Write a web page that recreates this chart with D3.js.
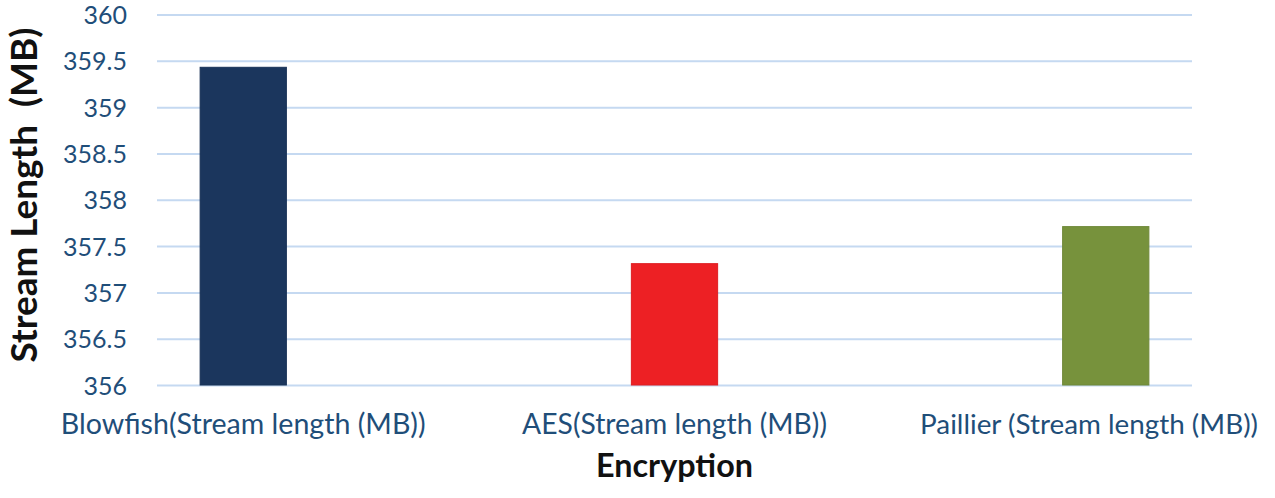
<!DOCTYPE html>
<html>
<head>
<meta charset="utf-8">
<script src="https://cdn.jsdelivr.net/npm/d3@7/dist/d3.min.js"></script>
<style>
  html, body { margin: 0; padding: 0; background: #fff; }
  svg { display: block; }
</style>
</head>
<body>
<svg id="chart" width="1275" height="498"></svg>
<script>
// ---- data ----
const categories = ["Blowfish(Stream length (MB))", "AES(Stream length (MB))", "Paillier (Stream length (MB))"];
const series = ["Blowfish", "AES", "Paillier"];
const values = [359.43, 357.31, 357.71];
const yTicks = [356, 356.5, 357, 357.5, 358, 358.5, 359, 359.5, 360];
const yDomain = [356, 360];
const xTitle = "Encryption";
const yTitle = "Stream Length\u00A0\u00A0(MB)";

// ---- styles ----
const colors = ["#1B365D", "#ED2024", "#77923C"];
const W = 1275, H = 498;
const plot = { left: 157, right: 1192, top: 14.5, bottom: 385 };
const tickColor = "#1F4E79";
const font = "Lato, 'Open Sans', sans-serif";

const svg = d3.select("#chart");

const x0 = d3.scaleBand().domain(categories).range([plot.left, plot.right]).paddingInner(0).paddingOuter(0);
const x1 = d3.scaleBand().domain(series).range([0, x0.bandwidth()]).paddingInner(0).paddingOuter(0.5);
const y = d3.scaleLinear().domain(yDomain).range([plot.bottom, plot.top]);

function fit(sel, target) {
  sel.attr("font-size", 20);
  const len = sel.node().getComputedTextLength();
  sel.attr("font-size", 20 * target / len);
}

// gridlines + tick labels
const yAxis = d3.axisLeft(y).tickValues(yTicks).tickSize(-(plot.right - plot.left)).tickPadding(30)
  .tickFormat(d => d3.format("")(d));
const gy = svg.append("g").attr("transform", `translate(${plot.left},0)`).call(yAxis);
gy.select(".domain").remove();
gy.selectAll(".tick line").attr("stroke", "#C5D9F1").attr("stroke-width", 2);
gy.selectAll(".tick text")
  .attr("fill", tickColor)
  .attr("font-family", font)
  .attr("font-size", 25)
  .attr("dy", "0.36em");

// bars
const data = categories.map((c, i) => ({ cat: c, ser: series[i], value: values[i], color: colors[i] }));
svg.append("g").selectAll("rect").data(data).join("rect")
  .attr("x", d => x0(d.cat) + x1(d.ser))
  .attr("width", x1.bandwidth())
  .attr("y", d => y(d.value))
  .attr("height", d => y(yDomain[0]) - y(d.value))
  .attr("fill", d => d.color)
  .attr("stroke", d => d3.color(d.color).darker(0.2))
  .attr("stroke-width", 1);

// x labels centred under each bar
const labels = svg.append("g").selectAll("text").data(data).join("text")
  .attr("fill", tickColor)
  .attr("font-family", font)
  .attr("text-anchor", "middle")
  .attr("y", 434)
  .text(d => d.cat);
labels.each(function(d, i) {
  const t = d3.select(this);
  fit(t, [365, 305, 338][i]);
  const w = this.getComputedTextLength();
  let cx = x0(d.cat) + x1(d.ser) + x1.bandwidth() / 2;
  cx = Math.min(cx, W - 17 - w / 2);
  t.attr("x", cx);
});

// x title
const xt = svg.append("text")
  .attr("x", (plot.left + plot.right) / 2)
  .attr("y", 477)
  .attr("text-anchor", "middle")
  .attr("font-family", font)
  .attr("font-weight", "bold")
  .attr("fill", "#111")
  .text(xTitle);
fit(xt, 157);

// y title
const yt = svg.append("text")
  .attr("transform", `translate(37,${(20 + 370) / 2}) rotate(-90)`)
  .attr("text-anchor", "middle")
  .attr("font-family", font)
  .attr("font-weight", "bold")
  .attr("fill", "#111")
  .text(yTitle);
fit(yt, 335);
</script>
</body>
</html>
